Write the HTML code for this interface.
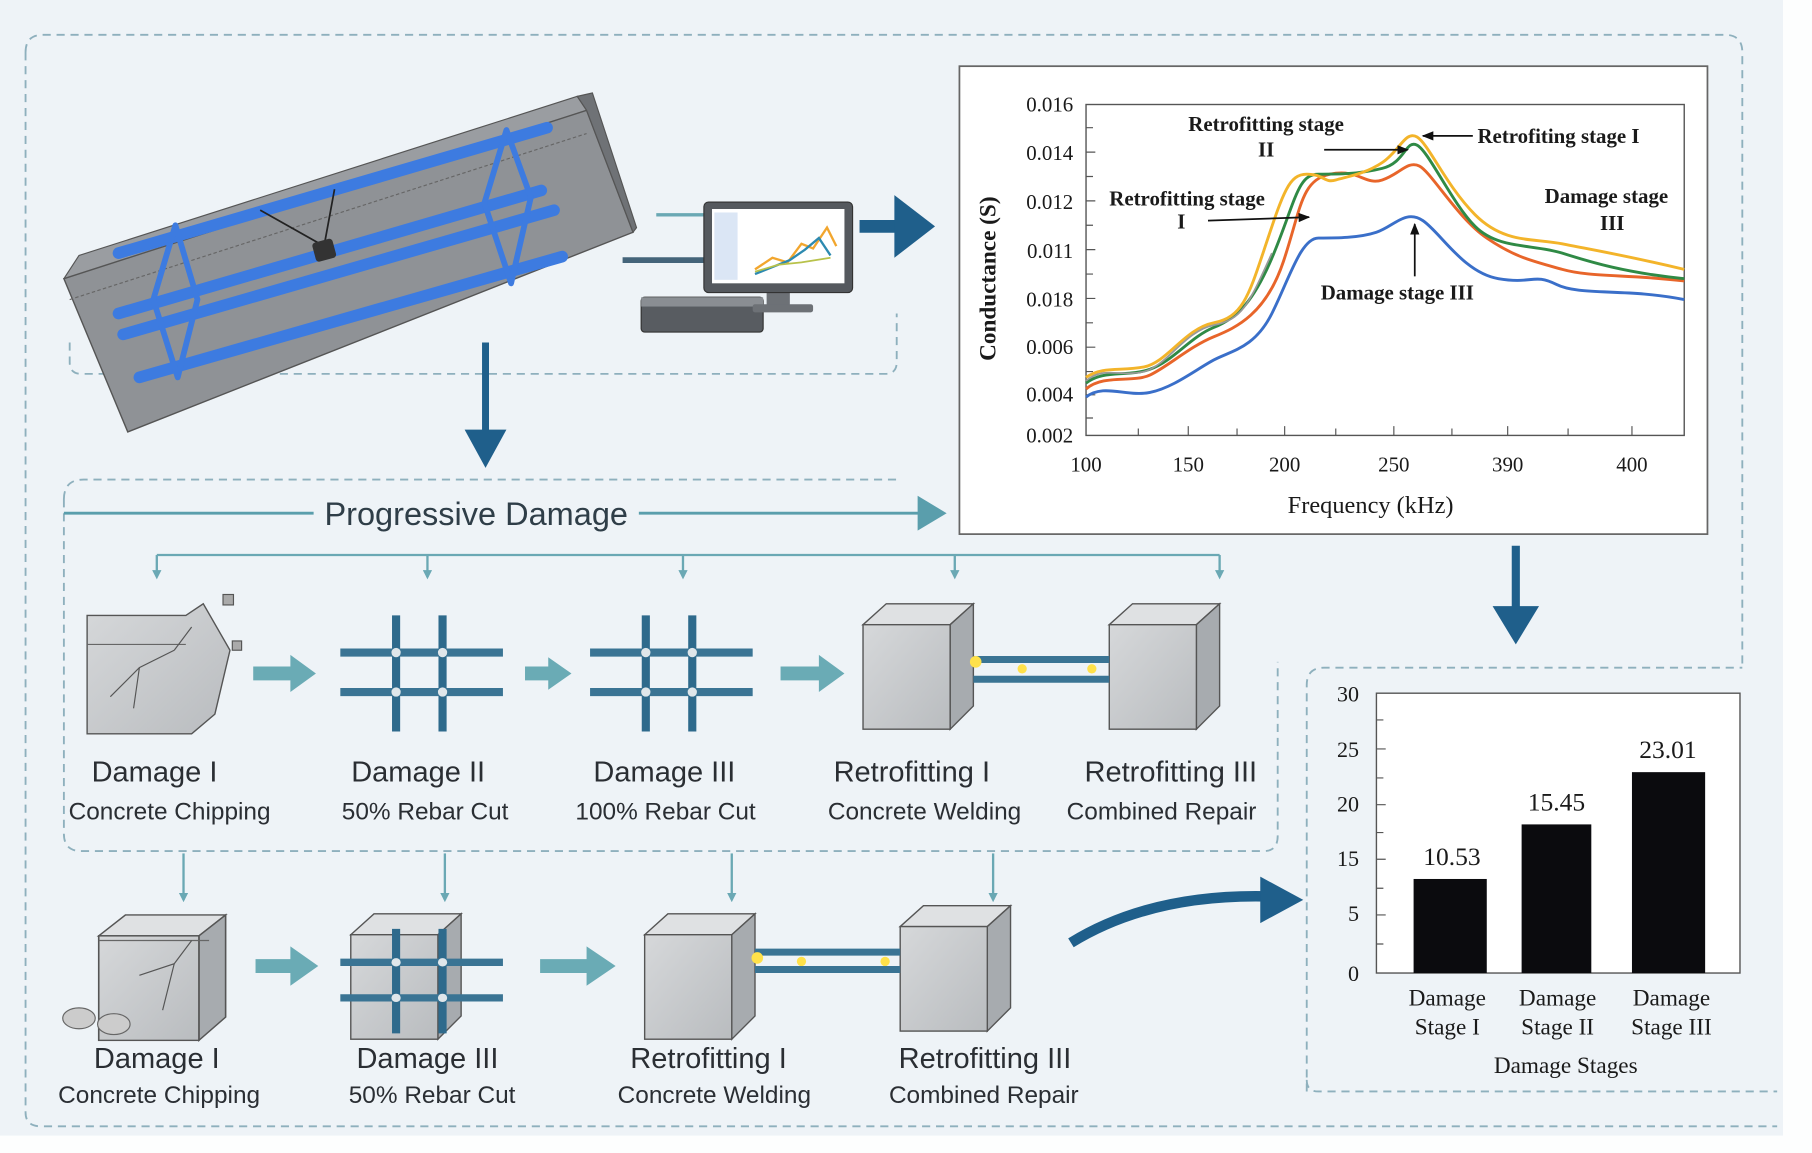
<!DOCTYPE html>
<html><head><meta charset="utf-8"><style>
html,body{margin:0;padding:0;background:#fff;}
svg{display:block;}
.s{font-family:"Liberation Sans Narrow","Liberation Sans",sans-serif;fill:#2a2e33;}
.f{font-family:"Liberation Serif",serif;fill:#1a1a1a;}
</style></head><body>
<svg width="1812" height="1153" viewBox="0 0 1560 993" preserveAspectRatio="none" xmlns="http://www.w3.org/2000/svg">
<defs>
<marker id="ah" markerWidth="8" markerHeight="8" refX="6" refY="4" orient="auto" markerUnits="userSpaceOnUse"><path d="M0,0 L8,4 L0,8z" fill="#6aa8b4"/></marker>
<marker id="ak" markerWidth="10" markerHeight="8" refX="9" refY="4" orient="auto" markerUnits="userSpaceOnUse"><path d="M0,0 L10,4 L0,8z" fill="#111"/></marker>
<linearGradient id="cf" x1="0" y1="0" x2="1" y2="1"><stop offset="0" stop-color="#d6d8da"/><stop offset="1" stop-color="#b9bcbf"/></linearGradient>
<g id="cube">
<polygon points="0,18 20,0 95,0 75,18" fill="#dfe1e3" stroke="#555" stroke-width="1.2"/>
<polygon points="75,18 95,0 95,88 75,108" fill="#a7abaf" stroke="#555" stroke-width="1.2"/>
<rect x="0" y="18" width="75" height="90" fill="url(#cf)" stroke="#555" stroke-width="1.2"/>
</g>
<g id="grid">
<line x1="-2" y1="0" x2="-2" y2="100" stroke="#2e6a8c" stroke-width="7"/>
<line x1="38" y1="0" x2="38" y2="100" stroke="#2e6a8c" stroke-width="7"/>
<line x1="-50" y1="32" x2="90" y2="32" stroke="#3a7494" stroke-width="7"/>
<line x1="-50" y1="66" x2="90" y2="66" stroke="#3a7494" stroke-width="7"/>
<circle cx="-2" cy="32" r="4" fill="#dfe6ea"/><circle cx="38" cy="32" r="4" fill="#dfe6ea"/>
<circle cx="-2" cy="66" r="4" fill="#dfe6ea"/><circle cx="38" cy="66" r="4" fill="#dfe6ea"/>
</g>
</defs>
<rect x="0" y="0" width="1560" height="993" fill="#fdfefe"/>
<rect x="0" y="0" width="1535" height="978" fill="#eef3f7"/>
<!-- outer dashed frame -->
<path d="M22,45 Q22,30 37,30 L1485,30 Q1500,30 1500,45 L1500,575 M22,45 L22,958 Q22,970 35,970 L1530,970" fill="none" stroke="#8eb0bd" stroke-width="1.6" stroke-dasharray="7,5"/>
<path d="M60,295 L60,312 Q60,322 70,322 L762,322 Q772,322 772,312 L772,270" fill="none" stroke="#8eb0bd" stroke-width="1.6" stroke-dasharray="7,5"/>
<path d="M1125,940 L1125,590 Q1125,575 1140,575 L1500,575" fill="none" stroke="#8eb0bd" stroke-width="1.6" stroke-dasharray="7,5"/>
<path d="M1125,930 Q1125,940 1135,940 L1530,940" fill="none" stroke="#8eb0bd" stroke-width="1.6" stroke-dasharray="7,5"/>
<path d="M55,430 Q55,413 72,413 L775,413 M55,430 L55,718 Q55,733 70,733 L1088,733 Q1100,733 1100,720 L1100,570" fill="none" stroke="#8eb0bd" stroke-width="1.6" stroke-dasharray="7,5"/>

<!-- beam -->
<polygon points="55,240 68,220 497,83 505,95 60,243" fill="#9a9da1" stroke="#555" stroke-width="1"/>
<polygon points="55,240 505,95 545,200 110,372" fill="#8f9296" stroke="#555" stroke-width="1.2"/>
<polygon points="497,83 510,80 548,196 545,200 505,95" fill="#6f7276" stroke="#555" stroke-width="1"/>
<line x1="60" y1="258" x2="505" y2="115" stroke="#666" stroke-width="1" stroke-dasharray="3,2"/>
<g stroke="#3d7be0" stroke-width="10" stroke-linecap="round" fill="none">
<line x1="102" y1="218" x2="471" y2="110"/>
<line x1="102" y1="270" x2="466" y2="164"/>
<line x1="106" y1="288" x2="477" y2="181"/>
<line x1="120" y1="325" x2="484" y2="221"/>
</g>
<g stroke="#3d7be0" stroke-width="5" fill="none" stroke-linejoin="round">
<polygon points="151,194 132,258 153,325 170,258"/>
<polygon points="436,112 417,175 440,244 457,170"/>
</g>
<path d="M224,181 L279,212 L288,163" fill="none" stroke="#222" stroke-width="1.5"/>
<rect x="270" y="207" width="18" height="17" rx="3" fill="#333" transform="rotate(-15 279 215)"/>
<!-- computer -->
<line x1="536" y1="224" x2="606" y2="224" stroke="#44647a" stroke-width="5"/>
<line x1="565" y1="185" x2="606" y2="185" stroke="#6aa8b4" stroke-width="3"/>
<rect x="552" y="256" width="105" height="30" rx="3" fill="#585c61" stroke="#333"/>
<rect x="552" y="256" width="105" height="8" fill="#8a8e93"/>
<rect x="660" y="250" width="20" height="15" fill="#6d7176"/>
<rect x="648" y="262" width="52" height="7" rx="2" fill="#6d7176"/>
<rect x="606" y="174" width="128" height="78" rx="4" fill="#55595e" stroke="#333"/>
<rect x="613" y="180" width="114" height="64" fill="#fff"/>
<rect x="615" y="183" width="20" height="58" fill="#dbe6f5"/>
<polyline points="650,232 665,222 678,226 690,210 700,214 712,196 720,212" fill="none" stroke="#f2a62e" stroke-width="2"/>
<polyline points="650,236 665,230 680,224 693,215 705,205 715,220" fill="none" stroke="#2d8ab0" stroke-width="2"/>
<polyline points="650,234 670,228 690,226 715,222" fill="none" stroke="#b8c24a" stroke-width="1.5"/>
<!-- arrows dark blue -->
<line x1="740" y1="195" x2="775" y2="195" stroke="#1f5f8b" stroke-width="11"/>
<polygon points="770,168 805,195 770,222" fill="#1f5f8b"/>
<line x1="418" y1="295" x2="418" y2="372" stroke="#1f5f8b" stroke-width="6"/>
<polygon points="400,370 436,370 418,403" fill="#1f5f8b"/>
<line x1="1305" y1="470" x2="1305" y2="525" stroke="#1f5f8b" stroke-width="7"/>
<polygon points="1285,522 1325,522 1305,555" fill="#1f5f8b"/>
<path d="M922,812 Q990,770 1090,772" fill="none" stroke="#1f5f8b" stroke-width="9"/>
<polygon points="1085,755 1122,775 1085,795" fill="#1f5f8b"/>

<!-- conductance chart -->
<rect x="826" y="57" width="644" height="403" fill="#fff" stroke="#666" stroke-width="1.5"/>
<rect x="935" y="90" width="515" height="285" fill="none" stroke="#555" stroke-width="1.2"/>
<g class="f" font-size="18" text-anchor="end">
<text x="924" y="96">0.016</text><text x="924" y="138">0.014</text><text x="924" y="180">0.012</text>
<text x="924" y="222">0.011</text><text x="924" y="264">0.018</text><text x="924" y="305">0.006</text>
<text x="924" y="346">0.004</text><text x="924" y="381">0.002</text>
</g>
<g class="f" font-size="18" text-anchor="middle">
<text x="935" y="406">100</text><text x="1023" y="406">150</text><text x="1106" y="406">200</text>
<text x="1200" y="406">250</text><text x="1298" y="406">390</text><text x="1405" y="406">400</text>
<text x="1180" y="442" font-size="21">Frequency (kHz)</text>
<text transform="translate(857,240) rotate(-90)" font-size="20" font-weight="bold">Conductance (S)</text>
</g>
<g stroke="#555" stroke-width="1">
<path d="M935,110h6M935,131h8M935,152h6M935,173h8M935,194h6M935,215h8M935,236h6M935,257h8M935,278h6M935,299h8M935,320h6M935,340h8M935,360h6"/>
<path d="M980,375v-6M1023,375v-8M1065,375v-6M1106,375v-8M1150,375v-6M1200,375v-8M1250,375v-6M1298,375v-8M1350,375v-6M1405,375v-8"/>
</g>
<g fill="none" stroke-width="2.5">
<path d="M935,342 C950,330 970,342 990,338 S1030,318 1045,310 S1080,300 1095,270 S1120,205 1135,205 S1170,205 1185,200 S1210,180 1225,190 S1260,235 1290,240 S1320,235 1340,245 S1400,248 1450,258" stroke="#3a6fc9"/>
<path d="M935,335 C950,322 975,330 990,323 S1025,298 1045,290 S1090,270 1105,225 S1120,155 1145,150 S1175,160 1190,155 S1212,138 1222,143 S1255,188 1280,205 S1320,225 1345,232 S1400,236 1450,242" stroke="#e8652a"/>
<path d="M935,330 C950,318 970,325 990,318 S1025,290 1045,282 S1080,260 1098,215 S1118,150 1135,150 S1170,150 1190,145 S1210,120 1220,125 S1250,175 1270,195 S1320,210 1345,218 S1400,235 1450,240" stroke="#2f8a45"/>
<path d="M935,325 C950,315 965,320 985,316 S1020,283 1045,278 S1075,255 1090,210 S1110,150 1125,150 S1140,158 1150,155 S1175,150 1190,140 S1210,112 1220,118 S1245,160 1270,185 S1320,205 1345,210 S1400,220 1450,232" stroke="#f3b42a"/>
<path d="M935,328 C950,315 965,325 985,320 S1020,285 1045,280 S1075,262 1095,218" stroke="#999" stroke-width="1.5"/>
</g>
<g class="f" font-size="18" font-weight="bold">
<text x="1090" y="113" text-anchor="middle">Retrofitting stage</text>
<text x="1090" y="135" text-anchor="middle">II</text>
<text x="1022" y="177" text-anchor="middle">Retrofitting stage</text>
<text x="1017" y="197" text-anchor="middle">I</text>
<text x="1272" y="123">Retrofiting stage I</text>
<text x="1383" y="175" text-anchor="middle">Damage stage</text>
<text x="1388" y="198" text-anchor="middle">III</text>
<text x="1203" y="258" text-anchor="middle">Damage stage III</text>
</g>
<g stroke="#111" stroke-width="1.5">
<line x1="1140" y1="129" x2="1212" y2="129" marker-end="url(#ak)"/>
<line x1="1268" y1="117" x2="1225" y2="117" marker-end="url(#ak)"/>
<line x1="1040" y1="190" x2="1127" y2="187" marker-end="url(#ak)"/>
<line x1="1218" y1="238" x2="1218" y2="193" marker-end="url(#ak)"/>
</g>

<!-- Progressive damage -->
<line x1="55" y1="442" x2="270" y2="442" stroke="#5a9eac" stroke-width="2.5"/>
<line x1="550" y1="442" x2="795" y2="442" stroke="#5a9eac" stroke-width="2.5"/>
<polygon points="790,427 815,442 790,457" fill="#5a9eac"/>
<text x="410" y="452" class="s" font-size="28" text-anchor="middle" style="fill:#2f3e48">Progressive Damage</text>
<line x1="135" y1="478" x2="1050" y2="478" stroke="#6aa8b4" stroke-width="2"/>
<g stroke="#6aa8b4" stroke-width="2">
<line x1="135" y1="478" x2="135" y2="497" marker-end="url(#ah)"/>
<line x1="368" y1="478" x2="368" y2="497" marker-end="url(#ah)"/>
<line x1="588" y1="478" x2="588" y2="497" marker-end="url(#ah)"/>
<line x1="822" y1="478" x2="822" y2="497" marker-end="url(#ah)"/>
<line x1="1050" y1="478" x2="1050" y2="497" marker-end="url(#ah)"/>
<line x1="158" y1="735" x2="158" y2="775" marker-end="url(#ah)"/>
<line x1="383" y1="735" x2="383" y2="775" marker-end="url(#ah)"/>
<line x1="630" y1="735" x2="630" y2="775" marker-end="url(#ah)"/>
<line x1="855" y1="735" x2="855" y2="775" marker-end="url(#ah)"/>
</g>
<!-- row1 -->
<polygon points="75,530 160,530 175,520 198,560 185,615 165,632 75,632" fill="url(#cf)" stroke="#555" stroke-width="1.2"/>
<line x1="75" y1="555" x2="160" y2="555" stroke="#666"/>
<path d="M95,600 L120,575 L150,560 M120,575 L115,610 M150,560 L165,540" stroke="#555" fill="none"/>
<rect x="192" y="512" width="9" height="9" fill="#aaa" stroke="#555"/><rect x="200" y="552" width="8" height="8" fill="#aaa" stroke="#555"/>
<g fill="#6aabb5">
<polygon points="218,574 250,574 250,564 272,580 250,596 250,586 218,586"/>
<polygon points="452,574 472,574 472,566 492,580 472,594 472,586 452,586"/>
<polygon points="672,574 705,574 705,564 727,580 705,596 705,586 672,586"/>
<polygon points="220,826 250,826 250,815 274,832 250,849 250,838 220,838"/>
<polygon points="465,826 505,826 505,815 530,832 505,849 505,838 465,838"/>
</g>
<use href="#grid" transform="translate(343,530)"/>
<use href="#grid" transform="translate(558,530)"/>
<use href="#cube" transform="translate(743,520)"/>
<use href="#cube" transform="translate(955,520)"/>
<g stroke="#3a7494" stroke-width="6"><line x1="838" y1="568" x2="955" y2="568"/><line x1="838" y1="585" x2="955" y2="585"/></g>
<g fill="#ffe14a"><circle cx="840" cy="570" r="5"/><circle cx="880" cy="576" r="4"/><circle cx="940" cy="576" r="4"/></g>
<g class="s" text-anchor="middle">
<g font-size="25"><text x="133" y="673">Damage I</text><text x="360" y="673">Damage II</text><text x="572" y="673">Damage III</text><text x="785" y="673">Retrofitting I</text><text x="1008" y="673">Retrofitting III</text></g>
<g font-size="21"><text x="146" y="706">Concrete Chipping</text><text x="366" y="706">50% Rebar Cut</text><text x="573" y="706">100% Rebar Cut</text><text x="796" y="706">Concrete Welding</text><text x="1000" y="706">Combined Repair</text></g>
</g>
<!-- row2 -->
<use href="#cube" transform="translate(85,788) scale(1.15,1)"/>
<line x1="85" y1="810" x2="180" y2="810" stroke="#666"/>
<path d="M120,840 L150,830 L165,810 M150,830 L140,870" stroke="#555" fill="none"/>
<ellipse cx="68" cy="877" rx="14" ry="9" fill="#ccc" stroke="#666"/><ellipse cx="98" cy="882" rx="14" ry="9" fill="#ccc" stroke="#666"/>
<use href="#cube" transform="translate(302,787)"/>
<g transform="translate(343,800) scale(1,0.9)"><use href="#grid"/></g>
<use href="#cube" transform="translate(555,787)"/>
<use href="#cube" transform="translate(775,780)"/>
<g stroke="#3a7494" stroke-width="6"><line x1="650" y1="820" x2="775" y2="820"/><line x1="650" y1="835" x2="775" y2="835"/></g>
<g fill="#ffe14a"><circle cx="652" cy="825" r="5"/><circle cx="690" cy="828" r="4"/><circle cx="762" cy="828" r="4"/></g>
<g class="s" text-anchor="middle">
<g font-size="25"><text x="135" y="920">Damage I</text><text x="368" y="920">Damage III</text><text x="610" y="920">Retrofitting I</text><text x="848" y="920">Retrofitting III</text></g>
<g font-size="21"><text x="137" y="950">Concrete Chipping</text><text x="372" y="950">50% Rebar Cut</text><text x="615" y="950">Concrete Welding</text><text x="847" y="950">Combined Repair</text></g>
</g>

<!-- bar chart -->
<rect x="1185" y="597" width="313" height="241" fill="#fff" stroke="#555" stroke-width="1.2"/>
<rect x="1217" y="757" width="63" height="81" fill="#0b0b0e"/>
<rect x="1310" y="710" width="60" height="128" fill="#0b0b0e"/>
<rect x="1405" y="665" width="63" height="173" fill="#0b0b0e"/>
<g class="f" text-anchor="end" font-size="19"><text x="1170" y="604">30</text><text x="1170" y="652">25</text><text x="1170" y="699">20</text><text x="1170" y="746">15</text><text x="1170" y="793">5</text><text x="1170" y="845">0</text></g>
<g stroke="#555"><path d="M1185,620h6M1185,645h8M1185,670h6M1185,693h8M1185,717h6M1185,740h8M1185,765h6M1185,788h8M1185,813h6"/></g>
<g class="f" text-anchor="middle" font-size="22"><text x="1250" y="745">10.53</text><text x="1340" y="698">15.45</text><text x="1436" y="653">23.01</text></g>
<g class="f" text-anchor="middle" font-size="20"><text x="1246" y="866">Damage</text><text x="1246" y="891">Stage I</text><text x="1341" y="866">Damage</text><text x="1341" y="891">Stage II</text><text x="1439" y="866">Damage</text><text x="1439" y="891">Stage III</text><text x="1348" y="924">Damage Stages</text></g>
</svg>
</body></html>
